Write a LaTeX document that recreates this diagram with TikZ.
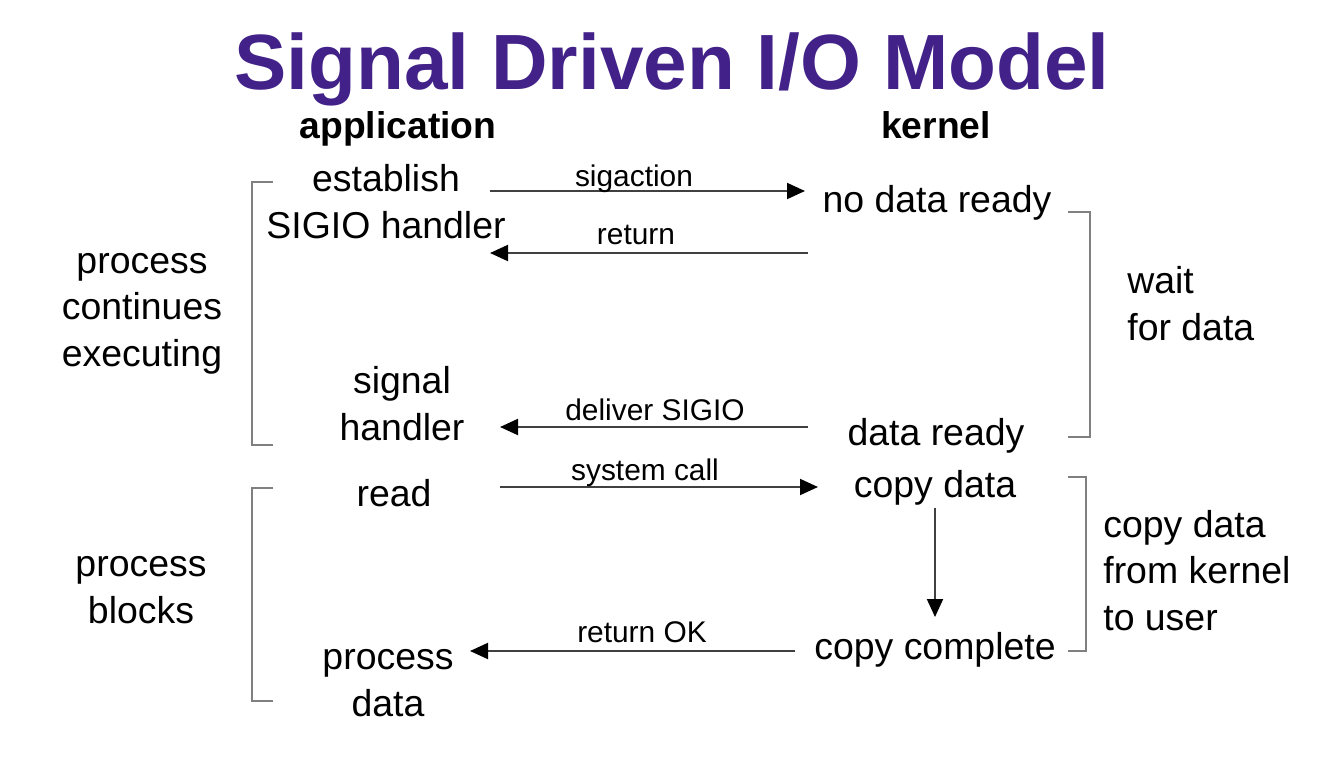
\documentclass[tikz,border=0pt]{standalone}
\usepackage{fontspec}
\setmainfont{Liberation Sans}
\usetikzlibrary{arrows.meta}
\definecolor{titlepurple}{RGB}{66,34,136}
\begin{document}
\begin{tikzpicture}[x=0.02cm,y=-0.02cm,>={Triangle[length=0.36cm,width=0.32cm,color=black]},
  txt/.style={inner sep=0pt,anchor=base,align=center,font=\fontsize{21.3}{26.2}\selectfont},
  lbl/.style={inner sep=0pt,anchor=base,font=\fontsize{17}{20}\selectfont},
  hdr/.style={inner sep=0pt,anchor=base,font=\bfseries\fontsize{21.2}{26}\selectfont},
  arr/.style={->,line width=1.1pt,draw=black!75},
  brack/.style={line width=0.9pt,draw=black!50}]
\useasboundingbox (0,0) rectangle (1333,765);

\node[inner sep=0pt,anchor=base,text=titlepurple,font=\bfseries\fontsize{44.6}{50}\selectfont] (title) at (672,89) {Signal Driven I/O Model};
\node[hdr] (app) at (398,138) {application};
\node[hdr] (kern) at (936,138) {kernel};

% application side (base = last line)
\node[txt] (estab) at (386,238) {establish\\SIGIO handler};
\node[txt] (sighand) at (402,440) {signal\\handler};
\node[txt] (read) at (394,506) {read};
\node[txt] (procdata) at (388,716) {process\\data};
\node[txt] (contexec) at (142,366) {process\\continues\\executing};
\node[txt] (blocks) at (141,623) {process\\blocks};

% kernel side
\node[txt] (nodata) at (937,212) {no data ready};
\node[txt] (ready) at (936,445) {data ready};
\node[txt] (cpdata) at (935,497) {copy data};
\node[txt] (cpdone) at (935,659) {copy complete};
\node[txt,anchor=base west,align=left] (wait) at (1127,340) {wait\\for data};
\node[txt,anchor=base west,align=left] (cpuser) at (1103,630) {copy data\\from kernel\\to user};

% arrows
\coordinate (sigS) at (490,191); \coordinate (sigE) at (805,191);
\coordinate (retS) at (808,253); \coordinate (retE) at (490,253);
\coordinate (delS) at (808,427); \coordinate (delE) at (500,427);
\coordinate (sysS) at (500,487); \coordinate (sysE) at (818,487);
\coordinate (okS) at (795,651);  \coordinate (okE) at (470,651);
\coordinate (downS) at (935,508); \coordinate (downE) at (935,617);

\draw[arr] (sigS)--(sigE);
\node[lbl] (lsig) at (634,186) {sigaction};
\draw[arr] (retS)--(retE);
\node[lbl] (lret) at (636,244) {return};
\draw[arr] (delS)--(delE);
\node[lbl] (ldel) at (655,420) {deliver SIGIO};
\draw[arr] (sysS)--(sysE);
\node[lbl] (lsys) at (645,480) {system call};
\draw[arr] (okS)--(okE);
\node[lbl] (lok) at (642,642) {return OK};
\draw[arr] (downS)--(downE);

% brackets
\foreach \t/\b in {182/445,488/701}
{
    \draw[brack](273,\t)--(252,\t)--(252,\b)--(273,\b);
}
\foreach \t/\b/\x in {212/437/1090,477/651/1086}
{
    \draw[brack](1068,\t)--(\x,\t)--(\x,\b)--(1068,\b);
}
\end{tikzpicture}
\end{document}
